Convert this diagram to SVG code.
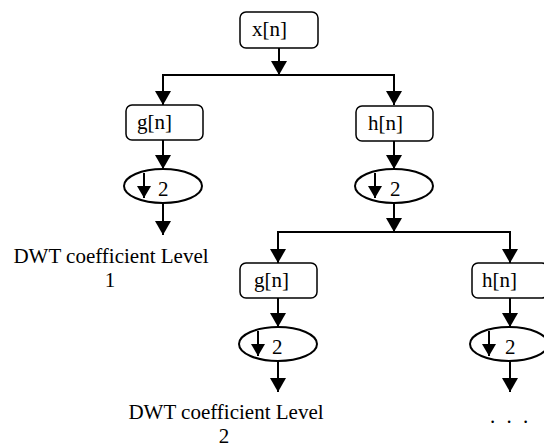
<svg xmlns="http://www.w3.org/2000/svg" width="544" height="447" viewBox="0 0 544 447">
<defs>
<marker id="ah" viewBox="0 0 14 16" refX="14" refY="8" markerWidth="14" markerHeight="16" orient="auto" markerUnits="userSpaceOnUse"><path d="M0,0 L14,8 L0,16 z" fill="#000"/></marker>
<marker id="ahs" viewBox="0 0 12 14" refX="12" refY="7" markerWidth="12" markerHeight="14" orient="auto" markerUnits="userSpaceOnUse"><path d="M0,0 L12,7 L0,14 z" fill="#000"/></marker>
<style>
.box{fill:#fff;stroke:#000;stroke-width:1.5}
.ell{fill:#fff;stroke:#000;stroke-width:2}
.t{font-family:"Liberation Serif","Times New Roman",serif;font-size:21px;fill:#000}
.c{stroke:#000;stroke-width:2;fill:none;marker-end:url(#ah)}
.ci{stroke:#000;stroke-width:2;fill:none;marker-end:url(#ahs)}
</style>
</defs>
<g id="connectors">
<path class="c" d="M279,48 V75"/>
<path class="c" d="M279,75 H163 V105"/>
<path class="c" d="M279,75 H394 V105"/>
<path class="c" d="M163,140 V169"/>
<path class="c" d="M394,141 V169"/>
<path class="c" d="M163,203 V235"/>
<path class="c" d="M394,203 V232"/>
<path class="c" d="M394,232 H278 V263"/>
<path class="c" d="M394,232 H510 V263"/>
<path class="c" d="M278,298 V327"/>
<path class="c" d="M510,298 V327"/>
<path class="c" d="M278,361 V392"/>
<path class="c" d="M510,361 V392"/>
</g>
<g id="x">
<rect class="box" x="240" y="12" width="78" height="36" rx="6"/>
<text class="t" x="252" y="36">x[n]</text>
</g>
<g id="g1">
<rect class="box" x="126" y="105" width="77" height="35" rx="6"/>
<text class="t" x="137" y="129">g[n]</text>
</g>
<g id="h1">
<rect class="box" x="356" y="106" width="77" height="35" rx="6"/>
<text class="t" x="368" y="130">h[n]</text>
</g>
<g id="d1">
<ellipse class="ell" cx="163" cy="186" rx="39" ry="17"/>
<path class="ci" d="M144,173 V198"/>
<text class="t" x="158" y="196">2</text>
</g>
<g id="d2">
<ellipse class="ell" cx="394" cy="186" rx="39" ry="17"/>
<path class="ci" d="M375,173 V198"/>
<text class="t" x="390" y="196">2</text>
</g>
<g id="out1">
<text class="t" x="111" y="263" text-anchor="middle">DWT coefficient Level</text>
<text class="t" x="110" y="287" text-anchor="middle">1</text>
</g>
<g id="g2">
<rect class="box" x="240" y="263" width="77" height="35" rx="6"/>
<text class="t" x="254" y="287">g[n]</text>
</g>
<g id="h2">
<rect class="box" x="472" y="263" width="76" height="35" rx="6"/>
<text class="t" x="482" y="287">h[n]</text>
</g>
<g id="d3">
<ellipse class="ell" cx="278" cy="344" rx="39" ry="17"/>
<path class="ci" d="M258,331 V356"/>
<text class="t" x="272" y="354">2</text>
</g>
<g id="d4">
<ellipse class="ell" cx="509" cy="344" rx="39" ry="17"/>
<path class="ci" d="M489,331 V356"/>
<text class="t" x="505" y="354">2</text>
</g>
<g id="out2">
<text class="t" x="226" y="419" text-anchor="middle">DWT coefficient Level</text>
<text class="t" x="224" y="443" text-anchor="middle">2</text>
</g>
<g id="more">
<text class="t" x="490" y="423" word-spacing="6">. . .</text>
</g>
</svg>
